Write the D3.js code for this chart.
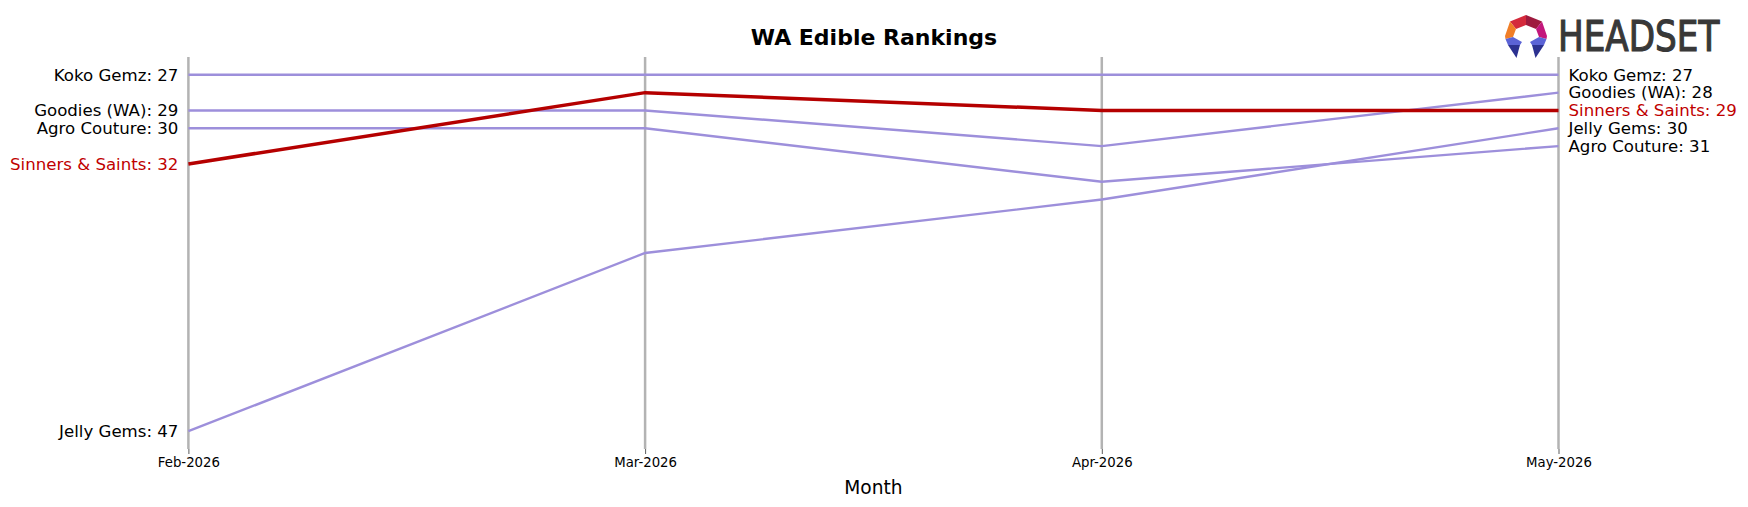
<!DOCTYPE html>
<html>
<head>
<meta charset="utf-8">
<script src="https://cdn.jsdelivr.net/npm/d3@7"></script>
<style>
  body { margin: 0; background: #fff; }
  text { font-family: "DejaVu Sans", sans-serif; }
</style>
</head>
<body>
<div id="chart"></div>
<script>
    const months = ["Feb-2026", "Mar-2026", "Apr-2026", "May-2026"];
    const brands = ["Koko Gemz", "Goodies (WA)", "Agro Couture", "Jelly Gems", "Sinners & Saints"];
    const kokoGemz = [27, 27, 27, 27];
    const goodiesWA = [29, 29, 31, 28];
    const agroCouture = [30, 30, 33, 31];
    const jellyGems = [47, 37, 34, 30];
    const sinnersSaints = [32, 28, 29, 29];
    const highlight = "Sinners & Saints";

    const series = [kokoGemz, goodiesWA, agroCouture, jellyGems, sinnersSaints].map((vals, i) => ({
        name: brands[i],
        values: vals.map((v, j) => ({ month: months[j], rank: v }))
    }));

    const width = 1748, height = 507;
    const margin = { top: 57, bottom: 58, left: 188.4, right: 189.5 };

    const svg = d3.select("#chart").append("svg")
        .attr("width", width)
        .attr("height", height);

    const x = d3.scalePoint()
        .domain(months)
        .range([margin.left, width - margin.right]);

    const y = d3.scaleLinear()
        .domain([26, 48])
        .range([margin.top, height - margin.bottom]);

    // vertical month lines
    svg.selectAll(".vline")
        .data(months)
        .enter()
        .append("line")
            .attr("x1", d => x(d))
            .attr("x2", d => x(d))
            .attr("y1", y(26))
            .attr("y2", y(48))
            .attr("stroke", "#b3b3b3")
            .attr("stroke-width", 2.5);

    // x axis (ticks + labels only)
    svg.append("g")
        .attr("transform", `translate(0,${y(48)})`)
        .call(d3.axisBottom(x).tickSize(5).tickPadding(4))
        .call(g => g.select(".domain").remove())
        .call(g => g.selectAll("line").attr("stroke", "#333").attr("stroke-width", 0.8))
        .call(g => g.selectAll("text")
            .attr("fill", "#000")
            .style("font-family", "DejaVu Sans, sans-serif")
            .style("font-size", "13.3px"));

    const line = d3.line()
        .x(d => x(d.month))
        .y(d => y(d.rank));

    const ordered = series.filter(s => s.name !== highlight).concat(series.filter(s => s.name === highlight));

    svg.selectAll(".rankline")
        .data(ordered)
        .enter()
        .append("path")
            .attr("fill", "none")
            .attr("stroke", d => d.name === highlight ? "#b50000" : "#9d8fdb")
            .attr("stroke-width", d => d.name === highlight ? 3.5 : 2.4)
            .attr("d", d => line(d.values));

    // left labels
    svg.selectAll(".leftLabel")
        .data(series)
        .enter()
        .append("text")
            .attr("x", x(months[0]) - 10)
            .attr("y", d => y(d.values[0].rank))
            .attr("dy", "0.35em")
            .attr("text-anchor", "end")
            .attr("fill", d => d.name === highlight ? "#c00000" : "#000")
            .style("font-size", "16.6px")
            .text(d => `${d.name}: ${d.values[0].rank}`);

    // right labels
    svg.selectAll(".rightLabel")
        .data(series)
        .enter()
        .append("text")
            .attr("x", x(months[months.length - 1]) + 10)
            .attr("y", d => y(d.values[d.values.length - 1].rank))
            .attr("dy", "0.35em")
            .attr("fill", d => d.name === highlight ? "#c00000" : "#000")
            .style("font-size", "16.6px")
            .text(d => `${d.name}: ${d.values[d.values.length - 1].rank}`);

    // title + axis title
    svg.append("text")
        .attr("x", width / 2)
        .attr("y", 45)
        .attr("text-anchor", "middle")
        .style("font-size", "22px")
        .style("font-weight", "bold")
        .text("WA Edible Rankings");

    svg.append("text")
        .attr("x", (x(months[0]) + x(months[3])) / 2)
        .attr("y", 494)
        .attr("text-anchor", "middle")
        .style("font-size", "18.6px")
        .text("Month");

    // logo
    const logo = svg.append("g").attr("transform", "translate(1505,15)");
    const half = [
        { c: "#d42a3c", c2: "#9e1a3e", p: [[21,0],[5,6.5],[11,14],[21,10]] },
        { c: "#f07e27", c2: "#c3177c", p: [[5,6.5],[0,21],[0.5,24],[8,22],[11,14]] },
        { c: "#5b63d6", c2: "#5b63d6", p: [[0.5,24],[8,22],[17,27],[15,30],[3,30]] },
        { c: "#2c3190", c2: "#2c3190", p: [[3,30],[15,30],[11.5,43]] }
    ];
    const pieces = half.map(d => ({ c: d.c, p: d.p }))
        .concat(half.map(d => ({ c: d.c2, p: d.p.map(q => [42 - q[0], q[1]]) })));
    logo.selectAll("polygon")
        .data(pieces)
        .enter()
        .append("polygon")
            .attr("points", d => d.p.map(q => q.join(",")).join(" "))
            .attr("fill", d => d.c);

    // wordmark, squeezed horizontally
    svg.append("g")
        .attr("transform", "translate(1558,50.5) scale(0.815,1)")
        .append("text")
            .attr("x", 0)
            .attr("y", 0)
            .attr("fill", "#383838")
            .attr("stroke", "#383838")
            .attr("stroke-width", 1.2)
            .style("font-size", "42px")
            .text("HEADSET");
</script>
</body>
</html>
